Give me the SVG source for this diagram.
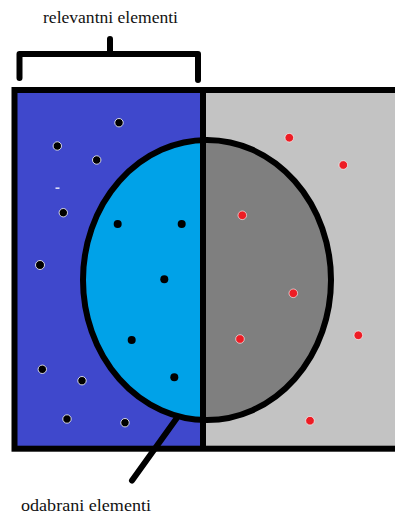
<svg xmlns="http://www.w3.org/2000/svg" width="395" height="515" viewBox="0 0 395 515">
<style>
.lbl{font-size:16px;fill:#111}
.ln{stroke:#000;stroke-width:6;fill:none;stroke-linecap:round;stroke-linejoin:round}
.bd{fill:#000;stroke:#fff;stroke-width:0.8}
.bdc{fill:#000}
.rd{fill:#ED1C24;stroke:#fff;stroke-width:0.6}
</style>
<defs>
<clipPath id="ellClip"><ellipse cx="207" cy="280" rx="124" ry="140"/></clipPath>
</defs>
<rect width="395" height="515" fill="#fff"/>
<g id="relevant-set">
<rect x="14.5" y="90" width="188.5" height="358.7" fill="#3F48CC"/>
</g>
<g id="non-relevant-set">
<rect x="203" y="90" width="200" height="358.7" fill="#C3C3C3"/>
</g>
<g id="selected-set">
<ellipse cx="207" cy="280" rx="124" ry="140" fill="#00A2E8"/>
<rect x="203" y="130" width="140" height="300" fill="#7F7F7F" clip-path="url(#ellClip)"/>
<ellipse cx="207" cy="280" rx="124" ry="140" fill="none" stroke="#000" stroke-width="6"/>
</g>
<g id="frame">
<rect x="14.5" y="90" width="400" height="358.7" fill="none" stroke="#000" stroke-width="6"/>
<line x1="203" y1="90" x2="203" y2="448.7" stroke="#000" stroke-width="6"/>
</g>
<g id="dots">
<circle class="bd" cx="119" cy="122.7" r="4.2"/>
<circle class="bd" cx="57.3" cy="146" r="4.2"/>
<circle class="bd" cx="96.7" cy="160" r="4.2"/>
<circle class="bd" cx="63.3" cy="212.7" r="4.2"/>
<circle class="bd" cx="40" cy="265" r="4.5"/>
<circle class="bd" cx="42.3" cy="369.3" r="4.2"/>
<circle class="bd" cx="82" cy="380.7" r="4.2"/>
<circle class="bd" cx="67" cy="419" r="4.2"/>
<circle class="bd" cx="125" cy="422.7" r="4.2"/>
<rect x="55.5" y="187.5" width="4" height="1.3" fill="#fff"/>
<circle class="bdc" cx="117.7" cy="224" r="4"/>
<circle class="bdc" cx="181.7" cy="224" r="4"/>
<circle class="bdc" cx="164.3" cy="279.3" r="4"/>
<circle class="bdc" cx="131.7" cy="340" r="4"/>
<circle class="bdc" cx="174.3" cy="377.3" r="4"/>
<circle class="rd" cx="289.3" cy="137.7" r="4.3"/>
<circle class="rd" cx="343.3" cy="165" r="4.3"/>
<circle class="rd" cx="242.3" cy="215.3" r="4.3"/>
<circle class="rd" cx="293.3" cy="293.3" r="4.3"/>
<circle class="rd" cx="240" cy="339" r="4.3"/>
<circle class="rd" cx="358.3" cy="335.3" r="4.3"/>
<circle class="rd" cx="310" cy="420.7" r="4.3"/>
</g>
<g id="connectors">
<path class="ln" d="M19.5 78 V54 H198 V80 M110 54 V39"/>
<line class="ln" x1="176.5" y1="418.5" x2="132" y2="480.5"/>
</g>
<g id="label-relevant">
<text class="lbl" font-family="'Liberation Serif', 'Times New Roman', serif" x="43" y="23" textLength="135" lengthAdjust="spacingAndGlyphs">relevantni elementi</text>
</g>
<g id="label-selected">
<text class="lbl" font-family="'Liberation Serif', 'Times New Roman', serif" x="21" y="510.5" textLength="130" lengthAdjust="spacingAndGlyphs">odabrani elementi</text>
</g>
</svg>
